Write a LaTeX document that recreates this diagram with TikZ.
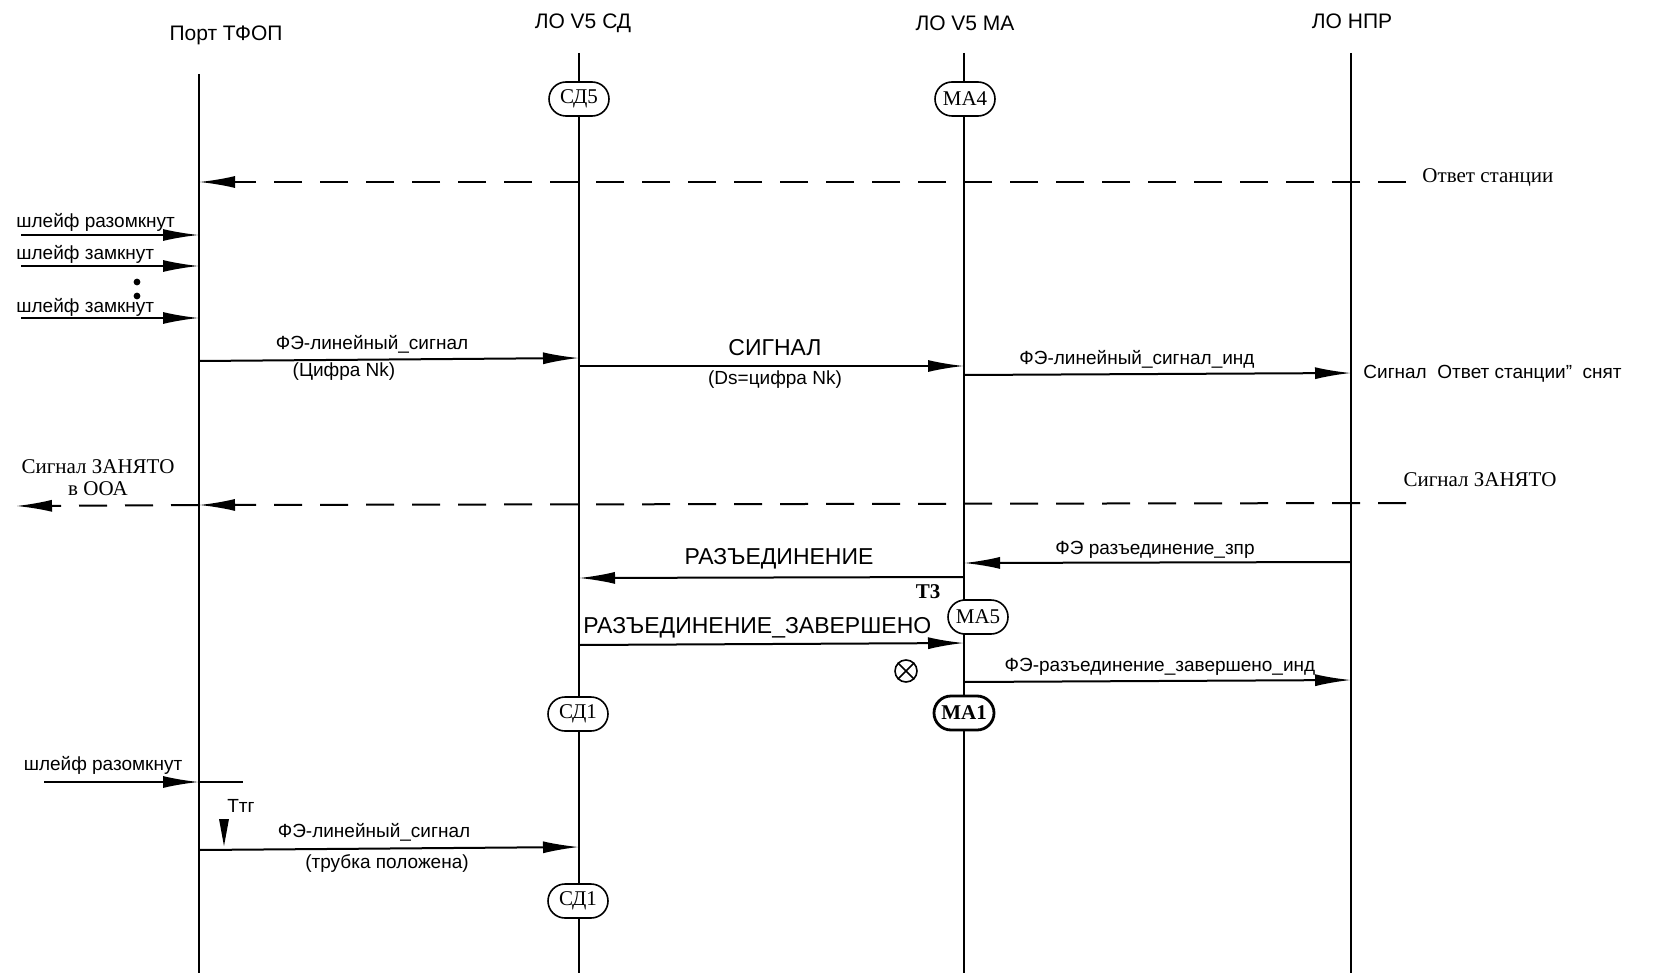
\documentclass[tikz,border=0pt]{standalone}
\usepackage{fontspec}
\setmainfont{Liberation Serif}
\setsansfont{Liberation Sans}
\usetikzlibrary{arrows.meta,shapes.misc}
\begin{document}
\begin{tikzpicture}[x=0.5pt,y=-0.5pt,
 life/.style={line width=0.8pt},
 msg/.style={line width=1pt,-{Latex[length=18pt,width=6pt]}},
 plain/.style={line width=1pt},
 dmsg/.style={msg,dash pattern=on 14pt off 9pt},
 lbl/.style={font=\sffamily\fontsize{9.5}{11}\selectfont,inner sep=1pt},
 big/.style={font=\sffamily\fontsize{11.5}{13}\selectfont,inner sep=1pt},
 hdr/.style={font=\sffamily\fontsize{10.5}{12}\selectfont,inner sep=1pt},
 srf/.style={font=\rmfamily\fontsize{10.5}{12}\selectfont,inner sep=1pt},
 state/.style={draw,rounded rectangle,fill=white,line width=0.8pt,minimum width=32pt,minimum height=17pt,inner sep=1pt,font=\rmfamily\fontsize{10.5}{12}\selectfont}]
\useasboundingbox (0,0) rectangle (1658,973);

% headers
\node[hdr] (hP) at (226,35) {Порт ТФОП};
\node[hdr] (hS) at (583,23) {ЛО V5 СД};
\node[hdr] (hM) at (965,23) {ЛО V5 МА};
\node[hdr] (hN) at (1352,21) {ЛО НПР};

% lifeline ends
\coordinate (Pt) at (199,74);  \coordinate (Pb) at (199,973);
\coordinate (St) at (579,53);  \coordinate (Sb) at (579,973);
\coordinate (Mt) at (964,53);  \coordinate (Mb) at (964,973);
\coordinate (Nt) at (1351,53); \coordinate (Nb) at (1351,973);
\draw[life] (Pt) -- (Pb);
\draw[life] (St) -- (Sb);
\draw[life] (Mt) -- (Mb);
\draw[life] (Nt) -- (Nb);

% states
\node[state] (sd5) at (579,99) {СД5};
\node[state] (ma4) at (965,99) {МА4};
\node[state] (ma5) at (978,617) {МА5};
\node[state] (sd1a) at (578,714) {СД1};
\node[state,line width=1.4pt,font=\rmfamily\bfseries\fontsize{10.5}{12}\selectfont] (ma1) at (964,713) {МА1};
\node[state] (sd1b) at (578,901) {СД1};

% Ответ станции
\coordinate (a1r) at (1406,182); \coordinate (a1l) at (199,182);
\draw[dmsg] (a1r) -- (a1l);
\node[srf,anchor=west] (t1) at (1420,178) {Ответ станции};

% шлейф messages
\coordinate (b1l) at (21,235); \coordinate (b1r) at (199,235);
\draw[msg] (b1l) -- (b1r);
\node[lbl,anchor=west] (t2) at (14,222) {шлейф разомкнут};
\coordinate (b2l) at (21,266); \coordinate (b2r) at (199,266);
\draw[msg] (b2l) -- (b2r);
\node[lbl,anchor=west] (t3) at (14,254) {шлейф замкнут};
\fill (137,282) circle (1.7pt);
\fill (137,296) circle (1.7pt);
\coordinate (b3l) at (21,318); \coordinate (b3r) at (199,318);
\draw[msg] (b3l) -- (b3r);
\node[lbl,anchor=west] (t4) at (14,307) {шлейф замкнут};

% ФЭ-линейный_сигнал (Цифра Nk)
\coordinate (c1l) at (199,361); \coordinate (c1r) at (579,358);
\draw[msg] (c1l) -- (c1r);
\node[lbl] (t5) at (372,344) {ФЭ-линейный\_сигнал};
\node[lbl] (t6) at (344,372) {(Цифра Nk)};

% СИГНАЛ
\coordinate (c2l) at (579,366); \coordinate (c2r) at (964,366);
\draw[msg] (c2l) -- (c2r);
\node[big] (t7) at (775,348) {СИГНАЛ};
\node[lbl] (t8) at (775,380) {(Ds=цифра Nk)};

% ФЭ-линейный_сигнал_инд
\coordinate (c3l) at (964,375); \coordinate (c3r) at (1351,373);
\draw[msg] (c3l) -- (c3r);
\node[lbl] (t9) at (1137,359) {ФЭ-линейный\_сигнал\_инд};
\node[lbl,anchor=west] (t10) at (1361,374) {Сигнал\ \ Ответ станции"\ \ снят};

% Сигнал ЗАНЯТО
\coordinate (d1r) at (1406,503); \coordinate (d1m) at (199,505); \coordinate (d1l) at (16,506);
\draw[dmsg] (d1r) -- (d1m);
\draw[dmsg] (d1m) -- (d1l);
\node[srf] (t11) at (1480,480) {Сигнал ЗАНЯТО};
\node[srf,align=center] (t12) at (98,478) {Сигнал ЗАНЯТО\\[-1pt]в ООА};

% ФЭ разъединение_зпр
\coordinate (e1r) at (1351,562); \coordinate (e1l) at (964,563);
\draw[msg] (e1r) -- (e1l);
\node[lbl] (t13) at (1155,550) {ФЭ разъединение\_зпр};

% РАЗЪЕДИНЕНИЕ
\coordinate (e2r) at (964,577); \coordinate (e2l) at (579,578);
\draw[msg] (e2r) -- (e2l);
\node[big] (t14) at (779,559) {РАЗЪЕДИНЕНИЕ};
\node[srf,font=\rmfamily\bfseries\fontsize{10.5}{12}\selectfont] (t15) at (928,592) {Т3};

% РАЗЪЕДИНЕНИЕ_ЗАВЕРШЕНО
\coordinate (e3l) at (579,645); \coordinate (e3r) at (964,643);
\draw[msg] (e3l) -- (e3r);
\node[big,anchor=west] (t16) at (581,628) {РАЗЪЕДИНЕНИЕ\_ЗАВЕРШЕНО};

% timer expiry symbol
\node[draw,circle,line width=0.8pt,minimum size=11pt,inner sep=0pt] (ox) at (906,671) {};
\draw[line width=0.8pt] (ox.north west) -- (ox.south east);
\draw[line width=0.8pt] (ox.north east) -- (ox.south west);

% ФЭ-разъединение_завершено_инд
\coordinate (e4l) at (964,682); \coordinate (e4r) at (1351,680);
\draw[msg] (e4l) -- (e4r);
\node[lbl] (t17) at (1160,667) {ФЭ-разъединение\_завершено\_инд};

% bottom шлейф разомкнут
\coordinate (f1l) at (44,782); \coordinate (f1m) at (199,782); \coordinate (f1r) at (243,782);
\draw[msg] (f1l) -- (f1m);
\draw[plain] (f1m) -- (f1r);
\node[lbl] (t18) at (103,765) {шлейф разомкнут};
\node[lbl] (t19) at (241,806) {Tтг};
\fill (219,819) -- (229,819) -- (224,846) -- cycle;

% ФЭ-линейный_сигнал (трубка положена)
\coordinate (f2l) at (199,850); \coordinate (f2r) at (579,847);
\draw[msg] (f2l) -- (f2r);
\node[lbl] (t20) at (374,832) {ФЭ-линейный\_сигнал};
\node[lbl] (t21) at (387,863) {(трубка положена)};
\end{tikzpicture}
\end{document}
